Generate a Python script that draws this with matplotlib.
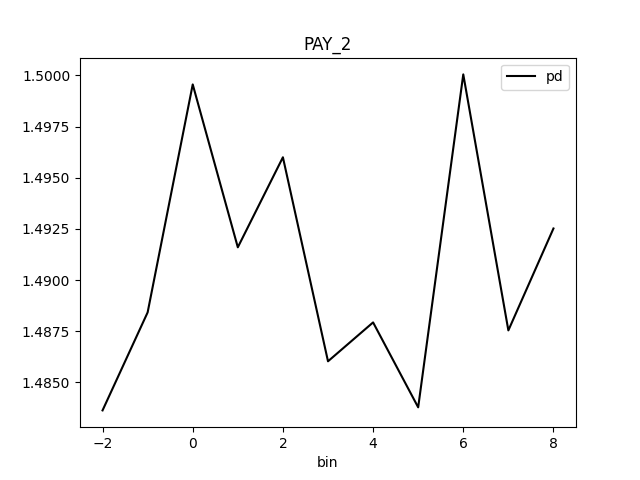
import matplotlib
matplotlib.use("Agg")
import matplotlib.pyplot as plt

bins = [-2, -1, 0, 1, 2, 3, 4, 5, 6, 7, 8]
pd_values = [1.48363, 1.48842, 1.49956, 1.49160, 1.49600, 1.48603,
             1.48793, 1.48378, 1.50005, 1.48754, 1.49252]

fig, ax = plt.subplots(figsize=(6.4, 4.8), dpi=100)
ax.plot(bins, pd_values, color="black", label="pd")
ax.set_title("PAY_2")
ax.set_xlabel("bin")
ax.legend()
fig.savefig("out.png")
